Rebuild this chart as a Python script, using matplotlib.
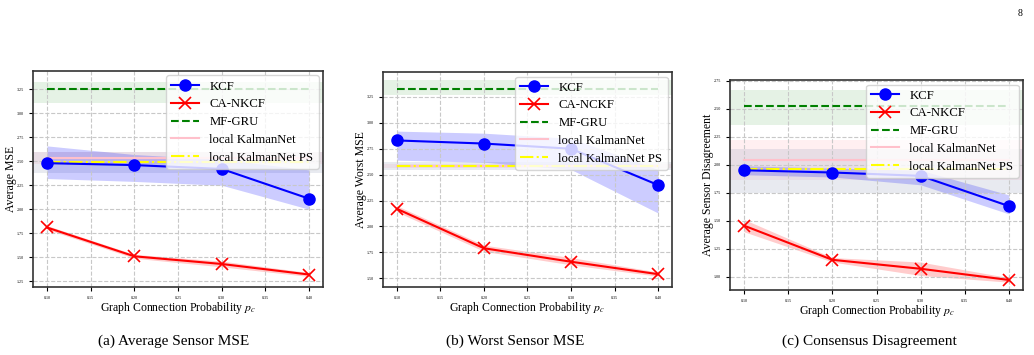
import numpy as np
import matplotlib
matplotlib.use("Agg")
import matplotlib.pyplot as plt

plt.rcParams['font.family'] = ['Liberation Serif', 'DejaVu Serif']
plt.rcParams['mathtext.fontset'] = 'stix'

# graph connection probability
p = [0.10, 0.20, 0.30, 0.40]
xticks = [0.10, 0.15, 0.20, 0.25, 0.30, 0.35, 0.40]

# (a) average sensor MSE
kcf_mse = [2.48, 2.46, 2.42, 2.11]
kcf_mse_lo = [2.32, 2.29, 2.25, 2.00]
kcf_mse_hi = [2.66, 2.57, 2.52, 2.41]
ca_mse = [1.81, 1.51, 1.43, 1.32]
ca_mse_lo = [1.79, 1.49, 1.40, 1.30]
ca_mse_hi = [1.83, 1.53, 1.46, 1.34]
gru_mse, gru_mse_band = 3.25, (3.11, 3.33)
kn_mse, kn_mse_band = 2.53, (2.47, 2.60)
knps_mse, knps_mse_band = 2.49, (2.38, 2.60)

# (b) worst sensor MSE
kcf_worst = [2.83, 2.80, 2.75, 2.40]
kcf_worst_lo = [2.64, 2.62, 2.55, 2.13]
kcf_worst_hi = [2.92, 2.90, 2.85, 2.55]
ca_worst = [2.17, 1.79, 1.66, 1.54]
ca_worst_lo = [2.14, 1.76, 1.63, 1.52]
ca_worst_hi = [2.20, 1.82, 1.70, 1.56]
gru_worst, gru_worst_band = 3.33, (3.27, 3.41)
kn_worst, kn_worst_band = 2.58, (2.56, 2.60)
knps_worst, knps_worst_band = 2.58, (2.545, 2.625)

# (c) consensus disagreement
kcf_dis = [1.95, 1.93, 1.90, 1.63]
kcf_dis_lo = [1.91, 1.89, 1.82, 1.56]
kcf_dis_hi = [1.99, 1.97, 1.95, 1.73]
ca_dis = [1.455, 1.15, 1.07, 0.97]
ca_dis_lo = [1.40, 1.13, 1.01, 0.95]
ca_dis_hi = [1.51, 1.17, 1.13, 0.99]
gru_dis, gru_dis_band = 2.52, (2.35, 2.67)
kn_dis, kn_dis_band = 2.04, (1.86, 2.22)
knps_dis, knps_dis_band = 1.96, (1.75, 2.14)

panels = [
    dict(pos=[0.0319, 0.1915, 0.2805, 0.6085], ylim=(1.19, 3.44),
         yticks=[1.25, 1.50, 1.75, 2.00, 2.25, 2.50, 2.75, 3.00, 3.25],
         ylabel='Average MSE', ca_label='CA-NKCF', caption='(a) Average Sensor MSE', cx=0.168,
         kcf=(kcf_mse, kcf_mse_lo, kcf_mse_hi), ca=(ca_mse, ca_mse_lo, ca_mse_hi),
         gru=(gru_mse, gru_mse_band), kn=(kn_mse, kn_mse_band), knps=(knps_mse, knps_mse_band)),
    dict(pos=[0.3704, 0.1915, 0.2795, 0.6056], ylim=(1.416, 3.49),
         yticks=[1.50, 1.75, 2.00, 2.25, 2.50, 2.75, 3.00, 3.25],
         ylabel='Average Worst MSE', ca_label='CA-NCKF', caption='(b) Worst Sensor MSE', cx=0.498,
         kcf=(kcf_worst, kcf_worst_lo, kcf_worst_hi), ca=(ca_worst, ca_worst_lo, ca_worst_hi),
         gru=(gru_worst, gru_worst_band), kn=(kn_worst, kn_worst_band), knps=(knps_worst, knps_worst_band)),
    dict(pos=[0.706, 0.183, 0.2834, 0.5915], ylim=(0.88, 2.756),
         yticks=[1.00, 1.25, 1.50, 1.75, 2.00, 2.25, 2.50, 2.75],
         ylabel='Average Sensor Disagreement', ca_label='CA-NKCF', caption='(c) Consensus Disagreement', cx=0.841,
         kcf=(kcf_dis, kcf_dis_lo, kcf_dis_hi), ca=(ca_dis, ca_dis_lo, ca_dis_hi),
         gru=(gru_dis, gru_dis_band), kn=(kn_dis, kn_dis_band), knps=(knps_dis, knps_dis_band)),
]

fig = plt.figure(figsize=(10.34, 3.55), dpi=100)

for pn in panels:
    ax = fig.add_axes(pn['pos'])
    # horizontal baselines with their spread
    ax.axhspan(*pn['gru'][1], color='green', alpha=0.1, lw=0)
    ax.axhspan(*pn['kn'][1], color='pink', alpha=0.25, lw=0)
    ax.axhspan(*pn['knps'][1], color='#8090b0', alpha=0.18, lw=0)
    ax.plot(p, [pn['gru'][0]] * len(p), '--', color='green', lw=1.5, label='MF-GRU', zorder=3)
    ax.plot(p, [pn['kn'][0]] * len(p), '-', color='pink', lw=1.5, label='local KalmanNet', zorder=3)
    ax.plot(p, [pn['knps'][0]] * len(p), '-.', color='yellow', lw=1.5, label='local KalmanNet PS', zorder=4)

    k, klo, khi = pn['kcf']
    ax.fill_between(p, klo, khi, color='blue', alpha=0.2, lw=0)
    ax.plot(p, k, '-o', color='blue', lw=1.5, ms=8, label='KCF', zorder=5)
    c, clo, chi = pn['ca']
    ax.fill_between(p, clo, chi, color='red', alpha=0.2, lw=0)
    ax.plot(p, c, '-x', color='red', lw=1.5, ms=8, mew=1.2, label=pn['ca_label'], zorder=5)

    ax.set_xticks(xticks)
    ax.set_xticklabels([f'{t:.2f}' for t in xticks])
    ax.set_yticks(pn['yticks'])
    ax.set_yticklabels([f'{t:.2f}' for t in pn['yticks']])
    ax.tick_params(labelsize=3, length=3, width=0.8)
    ax.set_xlim(0.084, 0.416)
    ax.set_ylim(*pn['ylim'])
    ax.grid(True, ls='--', color='#c8c8c8', lw=0.8)
    for s in ax.spines.values():
        s.set_linewidth(1.2)
        s.set_color('#333333')
    ax.set_xlabel(r'Graph Connection Probability $p_c$', fontsize=8.5, labelpad=0)
    ax.set_ylabel(pn['ylabel'], fontsize=8.5)
    ax.yaxis.set_label_coords(-0.055, 0.5)

    h, l = ax.get_legend_handles_labels()
    order = [3, 4, 0, 1, 2]
    ax.legend([h[i] for i in order], [l[i] for i in order], loc='upper right',
              fontsize=9.2, borderaxespad=0.35, handlelength=2.2, labelspacing=0.45)

    fig.text(pn['cx'], 0.04, pn['caption'], ha='center', va='center', fontsize=11)

fig.text(0.987, 0.975, '8', ha='center', va='top', fontsize=7)

fig.savefig('out.png', dpi=100)
